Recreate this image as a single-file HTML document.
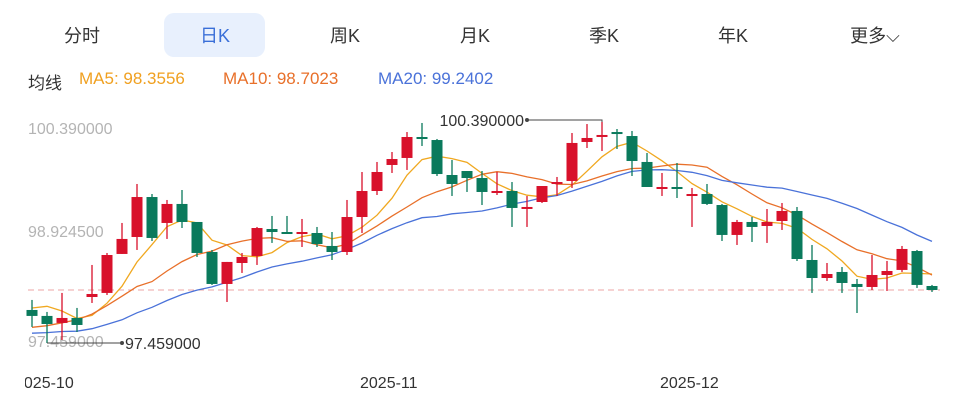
<!DOCTYPE html>
<html><head><meta charset="utf-8">
<style>
html,body{margin:0;padding:0;background:#fff;}
body{width:960px;height:410px;overflow:hidden;position:relative;font-family:"Liberation Sans","Noto Sans CJK SC",sans-serif;}
.tab{position:absolute;top:22px;font-size:18px;color:#333;transform:translateX(-50%);white-space:nowrap;}
#tab-active-bg{position:absolute;left:164px;top:13px;width:101px;height:44px;background:#e8f0fd;border-radius:10px;}
.leg{position:absolute;top:69px;font-size:17px;white-space:nowrap;}
svg{position:absolute;left:0;top:0;}
</style></head><body>
<div id="tab-active-bg"></div>
<div class="tab" style="left:82px">分时</div>
<div class="tab" style="left:215px;color:#3a6fd8">日K</div>
<div class="tab" style="left:345px">周K</div>
<div class="tab" style="left:475px">月K</div>
<div class="tab" style="left:604px">季K</div>
<div class="tab" style="left:733px">年K</div>
<div class="tab" style="left:875px">更多⌵</div>
<div class="leg" style="left:28px;color:#333">均线</div>
<div class="leg" style="left:79px;color:#f0a020">MA5: 98.3556</div>
<div class="leg" style="left:223px;color:#e8702a">MA10: 98.7023</div>
<div class="leg" style="left:378px;color:#4a72d9">MA20: 99.2402</div>
<svg id="chart" width="960" height="410"><defs><clipPath id="plotclip"><rect x="25" y="0" width="935" height="410"/></clipPath></defs></svg>
<script>
const opens=[97.897,97.818,97.725,97.791,98.069,98.123,98.640,98.865,99.395,99.051,99.303,99.064,98.666,98.242,98.520,98.613,98.971,98.931,98.905,98.918,98.746,98.666,99.130,99.475,99.820,99.913,100.191,100.151,99.687,99.740,99.647,99.449,99.475,99.250,99.329,99.568,99.608,100.125,100.204,100.257,100.204,99.860,99.502,99.528,99.409,99.435,99.289,98.892,99.064,99.011,99.077,99.210,98.560,98.321,98.401,98.242,98.202,98.361,98.428,98.679,98.215];
const closes=[97.818,97.711,97.791,97.698,98.109,98.626,98.839,99.395,98.852,99.303,99.064,98.653,98.242,98.534,98.600,98.984,98.931,98.905,98.931,98.772,98.666,99.130,99.475,99.727,99.899,100.191,100.165,99.700,99.568,99.647,99.462,99.475,99.250,99.263,99.541,99.594,100.112,100.178,100.218,100.231,99.873,99.528,99.528,99.502,99.435,99.303,98.892,99.064,98.998,99.064,99.210,98.573,98.321,98.374,98.255,98.202,98.361,98.414,98.706,98.229,98.162];
const highs=[98.030,97.871,98.123,97.924,98.494,98.653,99.051,99.568,99.435,99.356,99.488,99.064,98.693,98.534,98.653,98.998,99.144,99.144,99.104,98.998,98.931,99.356,99.727,99.860,99.992,100.257,100.377,100.165,99.886,99.740,99.740,99.727,99.594,99.409,99.541,99.661,100.244,100.363,100.390,100.297,100.271,99.979,99.714,99.846,99.515,99.568,99.303,99.091,99.130,99.236,99.316,99.263,98.759,98.520,98.467,98.308,98.626,98.547,98.746,98.693,98.229];
const lows=[97.672,97.459,97.499,97.605,97.990,98.096,98.640,98.693,98.812,98.839,98.984,98.600,98.229,98.003,98.388,98.494,98.786,98.905,98.732,98.732,98.560,98.626,98.918,99.422,99.714,99.754,100.072,99.674,99.409,99.462,99.289,99.422,98.998,98.998,99.316,99.409,99.515,100.045,100.005,100.032,99.674,99.528,99.409,99.382,98.998,99.289,98.812,98.759,98.799,98.786,98.958,98.547,98.123,98.282,98.123,97.857,98.162,98.149,98.401,98.189,98.136];
const priorCloses=[97.55,97.5,97.6,97.45,97.5,97.6,97.55,97.4,97.5,97.45,97.5,97.4,97.3,97.35,97.5,97.6,98.1,98.2,97.9];
const xTickLabels=["2025-10","2025-11","2025-12"];
const xTickIndex=[-1,22,42];
const yMax=100.39, yMin=97.459;

const svg=document.getElementById('chart');
const NS='http://www.w3.org/2000/svg';
const Y0=122,Y1=343;
function y(p){return Y0+(yMax-p)/(yMax-yMin)*(Y1-Y0);}
function x(i){return 32+i*15;}
function mk(tag,attrs){const e=document.createElementNS(NS,tag);for(const k in attrs)e.setAttribute(k,attrs[k]);svg.appendChild(e);return e;}

// y labels
[[yMax,128],[(yMax+yMin)/2,231],[yMin,341]].forEach((v,k)=>{
  const t=mk('text',{x:28,y:v[1]+6,'font-size':16,fill:'#b4b4b4','font-family':'Liberation Sans, sans-serif'});
  t.textContent=v[0].toFixed(6);
  
  
});
// x labels
xTickLabels.forEach((s,k)=>{
  const t=mk('text',{x:x(xTickIndex[k])-2,y:388,'font-size':16,fill:'#333','font-family':'Liberation Sans, sans-serif','clip-path':'url(#plotclip)'});
  t.textContent=s;
  
  
});
// last close dashed line
const last=closes[closes.length-1];
const dl=mk('line',{x1:28,x2:940,y1:y(last),y2:y(last),stroke:'#eda5a5','stroke-dasharray':'6,4','stroke-width':1});



// MAs
const all=priorCloses.concat(closes);
function ma(n){const r=[];for(let i=0;i<closes.length;i++){const j=i+priorCloses.length;let s=0,c=0;for(let k=Math.max(0,j-n+1);k<=j;k++){s+=all[k];c++;}r.push(s/c);}return r;}
[[5,'#f0a820','ma5-line'],[10,'#e8702a','ma10-line'],[20,'#4a72d9','ma20-line']].forEach(m=>{
  const v=ma(m[0]);
  const p=mk('polyline',{points:v.map((q,i)=>x(i)+','+y(q).toFixed(1)).join(' '),fill:'none',stroke:m[1],'stroke-width':1.3});
  
  
});

// candles
for(let i=0;i<closes.length;i++){
  const up=closes[i]>=opens[i];const col=up?'#d8112b':'#0a7a5c';
  const g=document.createElementNS(NS,'g');svg.appendChild(g);
  
  
  const w=document.createElementNS(NS,'line');
  w.setAttribute('x1',x(i));w.setAttribute('x2',x(i));w.setAttribute('y1',y(highs[i]));w.setAttribute('y2',y(lows[i]));w.setAttribute('stroke',col);w.setAttribute('stroke-width',1.3);g.appendChild(w);
  const top=y(Math.max(opens[i],closes[i])),bot=y(Math.min(opens[i],closes[i]));
  const r=document.createElementNS(NS,'rect');
  r.setAttribute('x',x(i)-5.5);r.setAttribute('width',11);r.setAttribute('y',top);r.setAttribute('height',Math.max(bot-top,2));r.setAttribute('fill',col);g.appendChild(r);
}

// max/min annotations
let hi=0,lo=0;highs.forEach((v,i)=>{if(v>highs[hi])hi=i;});lows.forEach((v,i)=>{if(v<lows[lo])lo=i;});
const hy=y(highs[hi]);
const ha=mk('polyline',{points:`${x(hi)},${hy} ${x(hi)},${hy-2} ${x(hi)-75},${hy-2}`,fill:'none',stroke:'#444','stroke-width':1});


mk('circle',{cx:x(hi)-75,cy:hy-2,r:2,fill:'#444'});
const ht=mk('text',{x:x(hi)-78,y:hy+4,'font-size':16,fill:'#333','text-anchor':'end','font-family':'Liberation Sans, sans-serif'});
ht.textContent=highs[hi].toFixed(6);


const ly=y(lows[lo]);
const la=mk('polyline',{points:`${x(lo)},${ly} ${x(lo)+75},${ly}`,fill:'none',stroke:'#444','stroke-width':1});


mk('circle',{cx:x(lo)+75,cy:ly,r:2,fill:'#444'});
const lt=mk('text',{x:x(lo)+78,y:ly+6,'font-size':16,fill:'#333','font-family':'Liberation Sans, sans-serif'});
lt.textContent=lows[lo].toFixed(6);


</script>
</body></html>
